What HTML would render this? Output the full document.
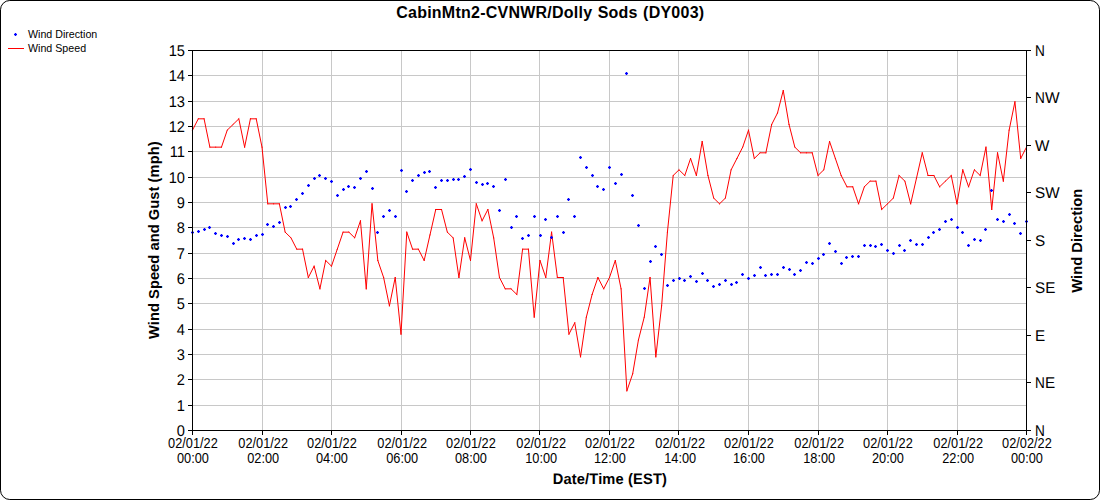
<!DOCTYPE html>
<html><head><meta charset="utf-8"><title>CabinMtn2-CVNWR/Dolly Sods (DY003)</title>
<style>html,body{margin:0;padding:0;background:#fff;}svg{display:block;}text{font-family:"Liberation Sans",sans-serif;fill:#000;}</style></head><body>
<svg width="1100" height="500" viewBox="0 0 1100 500">
<rect x="0" y="0" width="1100" height="500" fill="#fff"/>
<rect x="0.5" y="0.5" width="1099" height="499" rx="9.3" ry="9.3" fill="#fff" stroke="#000" stroke-width="1"/>
<text x="550.3" y="18.0" font-size="16" font-weight="bold" text-anchor="middle" letter-spacing="0.235" word-spacing="0.7">CabinMtn2-CVNWR/Dolly Sods (DY003)</text>
<text x="28" y="38" font-size="10.67">Wind Direction</text>
<line x1="8" y1="48.5" x2="24" y2="48.5" stroke="#ff0000" stroke-width="1.0"/>
<text x="28" y="51.8" font-size="10.67">Wind Speed</text>
<path d="M193 405.5H1026M193 379.5H1026M193 354.5H1026M193 329.5H1026M193 303.5H1026M193 278.5H1026M193 253.5H1026M193 227.5H1026M193 202.5H1026M193 177.5H1026M193 151.5H1026M193 126.5H1026M193 101.5H1026M193 75.5H1026M262.5 51V430M331.5 51V430M401.5 51V430M470.5 51V430M539.5 51V430M609.5 51V430M678.5 51V430M748.5 51V430M818.5 51V430M887.5 51V430M957.5 51V430" stroke="#c8c8c8" stroke-width="1" fill="none" shape-rendering="crispEdges"/>
<path d="M192.50 130.15L198.29 118.82M198.29 118.82L204.08 118.82M204.08 118.82L209.88 147.15M209.88 147.15L215.67 147.15M215.67 147.15L221.46 147.15M221.46 147.15L227.25 130.15M227.25 130.15L233.04 124.49M233.04 124.49L238.83 118.82M238.83 118.82L244.62 147.15M244.62 147.15L250.42 118.82M250.42 118.82L256.21 118.82M256.21 118.82L262.00 147.15M262.00 147.15L267.79 203.82M267.79 203.82L273.58 203.82M273.58 203.82L279.38 203.82M279.38 203.82L285.17 232.16M285.17 232.16L290.96 237.82M290.96 237.82L296.75 249.16M296.75 249.16L302.54 249.16M302.54 249.16L308.33 277.49M308.33 277.49L314.12 266.16M314.12 266.16L319.92 288.83M319.92 288.83L325.71 260.49M325.71 260.49L331.50 266.16M331.50 266.16L337.29 249.16M337.29 249.16L343.08 232.16M343.08 232.16L348.88 232.16M348.88 232.16L354.67 237.82M354.67 237.82L360.46 220.82M360.46 220.82L366.25 288.83M366.25 288.83L372.04 203.82M372.04 203.82L377.83 260.49M377.83 260.49L383.62 277.49M383.62 277.49L389.42 305.83M389.42 305.83L395.21 277.49M395.21 277.49L401.00 334.16M401.00 334.16L406.79 232.16M406.79 232.16L412.58 249.16M412.58 249.16L418.38 249.16M418.38 249.16L424.17 260.49M424.17 260.49L429.96 234.99M429.96 234.99L435.75 209.49M435.75 209.49L441.54 209.49M441.54 209.49L447.33 232.16M447.33 232.16L453.12 237.82M453.12 237.82L458.92 277.49M458.92 277.49L464.71 237.82M464.71 237.82L470.50 260.49M470.50 260.49L476.29 203.82M476.29 203.82L482.08 220.82M482.08 220.82L487.88 209.49M487.88 209.49L493.67 237.82M493.67 237.82L499.46 277.49M499.46 277.49L505.25 288.83M505.25 288.83L511.04 288.83M511.04 288.83L516.83 294.49M516.83 294.49L522.62 249.16M522.62 249.16L528.42 249.16M528.42 249.16L534.21 317.16M534.21 317.16L540.00 260.49M540.00 260.49L545.79 277.49M545.79 277.49L551.58 232.16M551.58 232.16L557.38 277.49M557.38 277.49L563.17 277.49M563.17 277.49L568.96 334.16M568.96 334.16L574.75 322.83M574.75 322.83L580.54 356.83M580.54 356.83L586.33 317.16M586.33 317.16L592.12 294.49M592.12 294.49L597.92 277.49M597.92 277.49L603.71 288.83M603.71 288.83L609.50 277.49M609.50 277.49L615.29 260.49M615.29 260.49L621.08 288.83M621.08 288.83L626.88 390.83M626.88 390.83L632.67 373.83M632.67 373.83L638.46 339.83M638.46 339.83L644.25 317.16M644.25 317.16L650.04 277.49M650.04 277.49L655.83 356.83M655.83 356.83L661.62 305.83M661.62 305.83L667.42 232.16M667.42 232.16L673.21 175.49M673.21 175.49L679.00 169.82M679.00 169.82L684.79 175.49M684.79 175.49L690.58 158.49M690.58 158.49L696.38 175.49M696.38 175.49L702.17 141.49M702.17 141.49L707.96 175.49M707.96 175.49L713.75 198.16M713.75 198.16L719.54 203.82M719.54 203.82L725.33 198.16M725.33 198.16L731.12 169.82M731.12 169.82L736.92 158.49M736.92 158.49L742.71 147.15M742.71 147.15L748.50 130.15M748.50 130.15L754.29 158.49M754.29 158.49L760.08 152.82M760.08 152.82L765.88 152.82M765.88 152.82L771.67 124.49M771.67 124.49L777.46 113.15M777.46 113.15L783.25 90.49M783.25 90.49L789.04 124.49M789.04 124.49L794.83 147.15M794.83 147.15L800.62 152.82M800.62 152.82L806.42 152.82M806.42 152.82L812.21 152.82M812.21 152.82L818.00 175.49M818.00 175.49L823.79 169.82M823.79 169.82L829.58 141.49M829.58 141.49L835.38 158.49M835.38 158.49L841.17 175.49M841.17 175.49L846.96 186.82M846.96 186.82L852.75 186.82M852.75 186.82L858.54 203.82M858.54 203.82L864.33 186.82M864.33 186.82L870.12 181.16M870.12 181.16L875.92 181.16M875.92 181.16L881.71 209.49M881.71 209.49L887.50 203.82M887.50 203.82L893.29 198.16M893.29 198.16L899.08 175.49M899.08 175.49L904.88 181.16M904.88 181.16L910.67 203.82M910.67 203.82L916.46 178.32M916.46 178.32L922.25 152.82M922.25 152.82L928.04 175.49M928.04 175.49L933.83 175.49M933.83 175.49L939.62 186.82M939.62 186.82L945.42 181.16M945.42 181.16L951.21 175.49M951.21 175.49L957.00 203.82M957.00 203.82L962.79 169.82M962.79 169.82L968.58 186.82M968.58 186.82L974.38 169.82M974.38 169.82L980.17 175.49M980.17 175.49L985.96 147.15M985.96 147.15L991.75 209.49M991.75 209.49L997.54 152.82M997.54 152.82L1003.33 181.16M1003.33 181.16L1009.12 130.15M1009.12 130.15L1014.92 101.82M1014.92 101.82L1020.71 158.49M1020.71 158.49L1026.50 147.15" fill="none" stroke="#ff0000" stroke-width="1.0" stroke-linecap="square"/>
<path d="M191.0 231.0h3v3h-3zM197.0 230.0h3v3h-3zM203.0 228.0h3v3h-3zM208.0 226.0h3v3h-3zM214.0 232.0h3v3h-3zM220.0 234.0h3v3h-3zM226.0 235.0h3v3h-3zM232.0 242.0h3v3h-3zM237.0 238.0h3v3h-3zM243.0 237.0h3v3h-3zM249.0 238.0h3v3h-3zM255.0 234.0h3v3h-3zM261.0 233.0h3v3h-3zM266.0 223.0h3v3h-3zM272.0 225.0h3v3h-3zM278.0 221.0h3v3h-3zM284.0 206.0h3v3h-3zM289.0 205.0h3v3h-3zM295.0 198.0h3v3h-3zM301.0 192.0h3v3h-3zM307.0 184.0h3v3h-3zM313.0 177.0h3v3h-3zM318.0 174.0h3v3h-3zM324.0 177.0h3v3h-3zM330.0 180.0h3v3h-3zM336.0 194.0h3v3h-3zM342.0 188.0h3v3h-3zM347.0 185.0h3v3h-3zM353.0 186.0h3v3h-3zM359.0 177.0h3v3h-3zM365.0 170.0h3v3h-3zM371.0 187.0h3v3h-3zM376.0 231.0h3v3h-3zM382.0 215.0h3v3h-3zM388.0 209.0h3v3h-3zM394.0 215.0h3v3h-3zM400.0 169.0h3v3h-3zM405.0 190.0h3v3h-3zM411.0 179.0h3v3h-3zM417.0 174.0h3v3h-3zM423.0 171.0h3v3h-3zM428.0 170.0h3v3h-3zM434.0 186.0h3v3h-3zM440.0 179.0h3v3h-3zM446.0 179.0h3v3h-3zM452.0 178.0h3v3h-3zM457.0 178.0h3v3h-3zM463.0 175.0h3v3h-3zM469.0 168.0h3v3h-3zM475.0 181.0h3v3h-3zM481.0 183.0h3v3h-3zM486.0 182.0h3v3h-3zM492.0 185.0h3v3h-3zM498.0 209.0h3v3h-3zM504.0 178.0h3v3h-3zM510.0 226.0h3v3h-3zM515.0 215.0h3v3h-3zM521.0 237.0h3v3h-3zM527.0 234.0h3v3h-3zM533.0 215.0h3v3h-3zM539.0 234.0h3v3h-3zM544.0 218.0h3v3h-3zM550.0 236.0h3v3h-3zM556.0 215.0h3v3h-3zM562.0 231.0h3v3h-3zM567.0 198.0h3v3h-3zM573.0 215.0h3v3h-3zM579.0 156.0h3v3h-3zM585.0 166.0h3v3h-3zM591.0 174.0h3v3h-3zM596.0 185.0h3v3h-3zM602.0 188.0h3v3h-3zM608.0 166.0h3v3h-3zM614.0 182.0h3v3h-3zM620.0 173.0h3v3h-3zM625.0 72.0h3v3h-3zM631.0 194.0h3v3h-3zM637.0 224.0h3v3h-3zM643.0 287.0h3v3h-3zM649.0 260.0h3v3h-3zM654.0 245.0h3v3h-3zM660.0 253.0h3v3h-3zM666.0 284.0h3v3h-3zM672.0 279.0h3v3h-3zM678.0 277.0h3v3h-3zM683.0 279.0h3v3h-3zM689.0 275.0h3v3h-3zM695.0 280.0h3v3h-3zM701.0 272.0h3v3h-3zM706.0 279.0h3v3h-3zM712.0 285.0h3v3h-3zM718.0 283.0h3v3h-3zM724.0 279.0h3v3h-3zM730.0 283.0h3v3h-3zM735.0 281.0h3v3h-3zM741.0 273.0h3v3h-3zM747.0 277.0h3v3h-3zM753.0 274.0h3v3h-3zM759.0 266.0h3v3h-3zM764.0 274.0h3v3h-3zM770.0 273.0h3v3h-3zM776.0 273.0h3v3h-3zM782.0 266.0h3v3h-3zM788.0 268.0h3v3h-3zM793.0 273.0h3v3h-3zM799.0 269.0h3v3h-3zM805.0 261.0h3v3h-3zM811.0 262.0h3v3h-3zM817.0 257.0h3v3h-3zM822.0 253.0h3v3h-3zM828.0 242.0h3v3h-3zM834.0 250.0h3v3h-3zM840.0 262.0h3v3h-3zM845.0 256.0h3v3h-3zM851.0 255.0h3v3h-3zM857.0 255.0h3v3h-3zM863.0 244.0h3v3h-3zM869.0 244.0h3v3h-3zM874.0 245.0h3v3h-3zM880.0 243.0h3v3h-3zM886.0 249.0h3v3h-3zM892.0 252.0h3v3h-3zM898.0 244.0h3v3h-3zM903.0 249.0h3v3h-3zM909.0 239.0h3v3h-3zM915.0 243.0h3v3h-3zM921.0 243.0h3v3h-3zM927.0 236.0h3v3h-3zM932.0 231.0h3v3h-3zM938.0 228.0h3v3h-3zM944.0 220.0h3v3h-3zM950.0 218.0h3v3h-3zM956.0 226.0h3v3h-3zM961.0 231.0h3v3h-3zM967.0 244.0h3v3h-3zM973.0 238.0h3v3h-3zM979.0 239.0h3v3h-3zM984.0 228.0h3v3h-3zM990.0 189.0h3v3h-3zM996.0 218.0h3v3h-3zM1002.0 220.0h3v3h-3zM1008.0 213.0h3v3h-3zM1013.0 222.0h3v3h-3zM1019.0 232.0h3v3h-3zM1025.0 220.0h3v3h-3zM14.0 33.0h3v3h-3z" fill="#0000ff" fill-opacity="0.27" shape-rendering="crispEdges"/>
<path d="M191.0 232.0h3v1h-3zM192.0 231.0h1v3h-1zM197.0 231.0h3v1h-3zM198.0 230.0h1v3h-1zM203.0 229.0h3v1h-3zM204.0 228.0h1v3h-1zM208.0 227.0h3v1h-3zM209.0 226.0h1v3h-1zM214.0 233.0h3v1h-3zM215.0 232.0h1v3h-1zM220.0 235.0h3v1h-3zM221.0 234.0h1v3h-1zM226.0 236.0h3v1h-3zM227.0 235.0h1v3h-1zM232.0 243.0h3v1h-3zM233.0 242.0h1v3h-1zM237.0 239.0h3v1h-3zM238.0 238.0h1v3h-1zM243.0 238.0h3v1h-3zM244.0 237.0h1v3h-1zM249.0 239.0h3v1h-3zM250.0 238.0h1v3h-1zM255.0 235.0h3v1h-3zM256.0 234.0h1v3h-1zM261.0 234.0h3v1h-3zM262.0 233.0h1v3h-1zM266.0 224.0h3v1h-3zM267.0 223.0h1v3h-1zM272.0 226.0h3v1h-3zM273.0 225.0h1v3h-1zM278.0 222.0h3v1h-3zM279.0 221.0h1v3h-1zM284.0 207.0h3v1h-3zM285.0 206.0h1v3h-1zM289.0 206.0h3v1h-3zM290.0 205.0h1v3h-1zM295.0 199.0h3v1h-3zM296.0 198.0h1v3h-1zM301.0 193.0h3v1h-3zM302.0 192.0h1v3h-1zM307.0 185.0h3v1h-3zM308.0 184.0h1v3h-1zM313.0 178.0h3v1h-3zM314.0 177.0h1v3h-1zM318.0 175.0h3v1h-3zM319.0 174.0h1v3h-1zM324.0 178.0h3v1h-3zM325.0 177.0h1v3h-1zM330.0 181.0h3v1h-3zM331.0 180.0h1v3h-1zM336.0 195.0h3v1h-3zM337.0 194.0h1v3h-1zM342.0 189.0h3v1h-3zM343.0 188.0h1v3h-1zM347.0 186.0h3v1h-3zM348.0 185.0h1v3h-1zM353.0 187.0h3v1h-3zM354.0 186.0h1v3h-1zM359.0 178.0h3v1h-3zM360.0 177.0h1v3h-1zM365.0 171.0h3v1h-3zM366.0 170.0h1v3h-1zM371.0 188.0h3v1h-3zM372.0 187.0h1v3h-1zM376.0 232.0h3v1h-3zM377.0 231.0h1v3h-1zM382.0 216.0h3v1h-3zM383.0 215.0h1v3h-1zM388.0 210.0h3v1h-3zM389.0 209.0h1v3h-1zM394.0 216.0h3v1h-3zM395.0 215.0h1v3h-1zM400.0 170.0h3v1h-3zM401.0 169.0h1v3h-1zM405.0 191.0h3v1h-3zM406.0 190.0h1v3h-1zM411.0 180.0h3v1h-3zM412.0 179.0h1v3h-1zM417.0 175.0h3v1h-3zM418.0 174.0h1v3h-1zM423.0 172.0h3v1h-3zM424.0 171.0h1v3h-1zM428.0 171.0h3v1h-3zM429.0 170.0h1v3h-1zM434.0 187.0h3v1h-3zM435.0 186.0h1v3h-1zM440.0 180.0h3v1h-3zM441.0 179.0h1v3h-1zM446.0 180.0h3v1h-3zM447.0 179.0h1v3h-1zM452.0 179.0h3v1h-3zM453.0 178.0h1v3h-1zM457.0 179.0h3v1h-3zM458.0 178.0h1v3h-1zM463.0 176.0h3v1h-3zM464.0 175.0h1v3h-1zM469.0 169.0h3v1h-3zM470.0 168.0h1v3h-1zM475.0 182.0h3v1h-3zM476.0 181.0h1v3h-1zM481.0 184.0h3v1h-3zM482.0 183.0h1v3h-1zM486.0 183.0h3v1h-3zM487.0 182.0h1v3h-1zM492.0 186.0h3v1h-3zM493.0 185.0h1v3h-1zM498.0 210.0h3v1h-3zM499.0 209.0h1v3h-1zM504.0 179.0h3v1h-3zM505.0 178.0h1v3h-1zM510.0 227.0h3v1h-3zM511.0 226.0h1v3h-1zM515.0 216.0h3v1h-3zM516.0 215.0h1v3h-1zM521.0 238.0h3v1h-3zM522.0 237.0h1v3h-1zM527.0 235.0h3v1h-3zM528.0 234.0h1v3h-1zM533.0 216.0h3v1h-3zM534.0 215.0h1v3h-1zM539.0 235.0h3v1h-3zM540.0 234.0h1v3h-1zM544.0 219.0h3v1h-3zM545.0 218.0h1v3h-1zM550.0 237.0h3v1h-3zM551.0 236.0h1v3h-1zM556.0 216.0h3v1h-3zM557.0 215.0h1v3h-1zM562.0 232.0h3v1h-3zM563.0 231.0h1v3h-1zM567.0 199.0h3v1h-3zM568.0 198.0h1v3h-1zM573.0 216.0h3v1h-3zM574.0 215.0h1v3h-1zM579.0 157.0h3v1h-3zM580.0 156.0h1v3h-1zM585.0 167.0h3v1h-3zM586.0 166.0h1v3h-1zM591.0 175.0h3v1h-3zM592.0 174.0h1v3h-1zM596.0 186.0h3v1h-3zM597.0 185.0h1v3h-1zM602.0 189.0h3v1h-3zM603.0 188.0h1v3h-1zM608.0 167.0h3v1h-3zM609.0 166.0h1v3h-1zM614.0 183.0h3v1h-3zM615.0 182.0h1v3h-1zM620.0 174.0h3v1h-3zM621.0 173.0h1v3h-1zM625.0 73.0h3v1h-3zM626.0 72.0h1v3h-1zM631.0 195.0h3v1h-3zM632.0 194.0h1v3h-1zM637.0 225.0h3v1h-3zM638.0 224.0h1v3h-1zM643.0 288.0h3v1h-3zM644.0 287.0h1v3h-1zM649.0 261.0h3v1h-3zM650.0 260.0h1v3h-1zM654.0 246.0h3v1h-3zM655.0 245.0h1v3h-1zM660.0 254.0h3v1h-3zM661.0 253.0h1v3h-1zM666.0 285.0h3v1h-3zM667.0 284.0h1v3h-1zM672.0 280.0h3v1h-3zM673.0 279.0h1v3h-1zM678.0 278.0h3v1h-3zM679.0 277.0h1v3h-1zM683.0 280.0h3v1h-3zM684.0 279.0h1v3h-1zM689.0 276.0h3v1h-3zM690.0 275.0h1v3h-1zM695.0 281.0h3v1h-3zM696.0 280.0h1v3h-1zM701.0 273.0h3v1h-3zM702.0 272.0h1v3h-1zM706.0 280.0h3v1h-3zM707.0 279.0h1v3h-1zM712.0 286.0h3v1h-3zM713.0 285.0h1v3h-1zM718.0 284.0h3v1h-3zM719.0 283.0h1v3h-1zM724.0 280.0h3v1h-3zM725.0 279.0h1v3h-1zM730.0 284.0h3v1h-3zM731.0 283.0h1v3h-1zM735.0 282.0h3v1h-3zM736.0 281.0h1v3h-1zM741.0 274.0h3v1h-3zM742.0 273.0h1v3h-1zM747.0 278.0h3v1h-3zM748.0 277.0h1v3h-1zM753.0 275.0h3v1h-3zM754.0 274.0h1v3h-1zM759.0 267.0h3v1h-3zM760.0 266.0h1v3h-1zM764.0 275.0h3v1h-3zM765.0 274.0h1v3h-1zM770.0 274.0h3v1h-3zM771.0 273.0h1v3h-1zM776.0 274.0h3v1h-3zM777.0 273.0h1v3h-1zM782.0 267.0h3v1h-3zM783.0 266.0h1v3h-1zM788.0 269.0h3v1h-3zM789.0 268.0h1v3h-1zM793.0 274.0h3v1h-3zM794.0 273.0h1v3h-1zM799.0 270.0h3v1h-3zM800.0 269.0h1v3h-1zM805.0 262.0h3v1h-3zM806.0 261.0h1v3h-1zM811.0 263.0h3v1h-3zM812.0 262.0h1v3h-1zM817.0 258.0h3v1h-3zM818.0 257.0h1v3h-1zM822.0 254.0h3v1h-3zM823.0 253.0h1v3h-1zM828.0 243.0h3v1h-3zM829.0 242.0h1v3h-1zM834.0 251.0h3v1h-3zM835.0 250.0h1v3h-1zM840.0 263.0h3v1h-3zM841.0 262.0h1v3h-1zM845.0 257.0h3v1h-3zM846.0 256.0h1v3h-1zM851.0 256.0h3v1h-3zM852.0 255.0h1v3h-1zM857.0 256.0h3v1h-3zM858.0 255.0h1v3h-1zM863.0 245.0h3v1h-3zM864.0 244.0h1v3h-1zM869.0 245.0h3v1h-3zM870.0 244.0h1v3h-1zM874.0 246.0h3v1h-3zM875.0 245.0h1v3h-1zM880.0 244.0h3v1h-3zM881.0 243.0h1v3h-1zM886.0 250.0h3v1h-3zM887.0 249.0h1v3h-1zM892.0 253.0h3v1h-3zM893.0 252.0h1v3h-1zM898.0 245.0h3v1h-3zM899.0 244.0h1v3h-1zM903.0 250.0h3v1h-3zM904.0 249.0h1v3h-1zM909.0 240.0h3v1h-3zM910.0 239.0h1v3h-1zM915.0 244.0h3v1h-3zM916.0 243.0h1v3h-1zM921.0 244.0h3v1h-3zM922.0 243.0h1v3h-1zM927.0 237.0h3v1h-3zM928.0 236.0h1v3h-1zM932.0 232.0h3v1h-3zM933.0 231.0h1v3h-1zM938.0 229.0h3v1h-3zM939.0 228.0h1v3h-1zM944.0 221.0h3v1h-3zM945.0 220.0h1v3h-1zM950.0 219.0h3v1h-3zM951.0 218.0h1v3h-1zM956.0 227.0h3v1h-3zM957.0 226.0h1v3h-1zM961.0 232.0h3v1h-3zM962.0 231.0h1v3h-1zM967.0 245.0h3v1h-3zM968.0 244.0h1v3h-1zM973.0 239.0h3v1h-3zM974.0 238.0h1v3h-1zM979.0 240.0h3v1h-3zM980.0 239.0h1v3h-1zM984.0 229.0h3v1h-3zM985.0 228.0h1v3h-1zM990.0 190.0h3v1h-3zM991.0 189.0h1v3h-1zM996.0 219.0h3v1h-3zM997.0 218.0h1v3h-1zM1002.0 221.0h3v1h-3zM1003.0 220.0h1v3h-1zM1008.0 214.0h3v1h-3zM1009.0 213.0h1v3h-1zM1013.0 223.0h3v1h-3zM1014.0 222.0h1v3h-1zM1019.0 233.0h3v1h-3zM1020.0 232.0h1v3h-1zM1025.0 221.0h3v1h-3zM1026.0 220.0h1v3h-1zM14.0 34.0h3v1h-3zM15.0 33.0h1v3h-1z" fill="#0000ff" shape-rendering="crispEdges"/>
<path d="M192.5 50.5H1026.5V430.5H192.5ZM188 430.5H193M188 405.5H193M188 379.5H193M188 354.5H193M188 329.5H193M188 303.5H193M188 278.5H193M188 253.5H193M188 227.5H193M188 202.5H193M188 177.5H193M188 151.5H193M188 126.5H193M188 101.5H193M188 75.5H193M188 50.5H193M1026 430.5H1031M1026 382.5H1031M1026 335.5H1031M1026 287.5H1031M1026 240.5H1031M1026 192.5H1031M1026 145.5H1031M1026 97.5H1031M1026 50.5H1031M192.5 430V435M262.5 430V435M331.5 430V435M401.5 430V435M470.5 430V435M539.5 430V435M609.5 430V435M678.5 430V435M748.5 430V435M818.5 430V435M887.5 430V435M957.5 430V435M1026.5 430V435" stroke="#000" stroke-width="1" fill="none" shape-rendering="crispEdges"/>
<text transform="translate(185.00,436.00) skewX(0.05) scale(0.946,1.0)" font-size="15.5" text-anchor="end">0</text>
<text transform="translate(185.00,411.00) skewX(0.05) scale(0.946,1.0)" font-size="15.5" text-anchor="end">1</text>
<text transform="translate(185.00,385.00) skewX(0.05) scale(0.946,1.0)" font-size="15.5" text-anchor="end">2</text>
<text transform="translate(185.00,360.00) skewX(0.05) scale(0.946,1.0)" font-size="15.5" text-anchor="end">3</text>
<text transform="translate(185.00,335.00) skewX(0.05) scale(0.946,1.0)" font-size="15.5" text-anchor="end">4</text>
<text transform="translate(185.00,309.00) skewX(0.05) scale(0.946,1.0)" font-size="15.5" text-anchor="end">5</text>
<text transform="translate(185.00,284.00) skewX(0.05) scale(0.946,1.0)" font-size="15.5" text-anchor="end">6</text>
<text transform="translate(185.00,259.00) skewX(0.05) scale(0.946,1.0)" font-size="15.5" text-anchor="end">7</text>
<text transform="translate(185.00,233.00) skewX(0.05) scale(0.946,1.0)" font-size="15.5" text-anchor="end">8</text>
<text transform="translate(185.00,208.00) skewX(0.05) scale(0.946,1.0)" font-size="15.5" text-anchor="end">9</text>
<text transform="translate(185.00,183.00) skewX(0.05) scale(0.946,1.0)" font-size="15.5" text-anchor="end">10</text>
<text transform="translate(185.00,157.00) skewX(0.05) scale(0.946,1.0)" font-size="15.5" text-anchor="end">11</text>
<text transform="translate(185.00,132.00) skewX(0.05) scale(0.946,1.0)" font-size="15.5" text-anchor="end">12</text>
<text transform="translate(185.00,107.00) skewX(0.05) scale(0.946,1.0)" font-size="15.5" text-anchor="end">13</text>
<text transform="translate(185.00,81.00) skewX(0.05) scale(0.946,1.0)" font-size="15.5" text-anchor="end">14</text>
<text transform="translate(185.00,56.00) skewX(0.05) scale(0.946,1.0)" font-size="15.5" text-anchor="end">15</text>
<text transform="translate(1034.90,436.00) skewX(0.05) scale(0.88,1.0)" font-size="15.5">N</text>
<text transform="translate(1034.90,388.00) skewX(0.05) scale(0.88,1.0)" font-size="15.5">N</text>
<text transform="translate(1045.10,388.00) skewX(0.05) scale(0.985,1.0)" font-size="15.5">E</text>
<text transform="translate(1035.10,341.00) skewX(0.05) scale(0.985,1.0)" font-size="15.5">E</text>
<text transform="translate(1035.10,293.00) skewX(0.05) scale(0.985,1.0)" font-size="15.5">SE</text>
<text transform="translate(1035.10,246.00) skewX(0.05) scale(0.985,1.0)" font-size="15.5">S</text>
<text transform="translate(1035.10,198.00) skewX(0.05) scale(0.985,1.0)" font-size="15.5">SW</text>
<text transform="translate(1035.10,151.00) skewX(0.05) scale(0.985,1.0)" font-size="15.5">W</text>
<text transform="translate(1034.90,103.00) skewX(0.05) scale(0.88,1.0)" font-size="15.5">N</text>
<text transform="translate(1045.10,103.00) skewX(0.05)" font-size="15.5">W</text>
<text transform="translate(1034.90,56.00) skewX(0.05) scale(0.88,1.0)" font-size="15.5">N</text>
<text transform="translate(192.95,447.80) scale(0.913,1.0)" font-size="14" text-anchor="middle">02/01/22</text>
<text transform="translate(192.95,462.80) scale(0.913,1.0)" font-size="14" text-anchor="middle">00:00</text>
<text transform="translate(263.15,447.80) scale(0.913,1.0)" font-size="14" text-anchor="middle">02/01/22</text>
<text transform="translate(263.15,462.80) scale(0.913,1.0)" font-size="14" text-anchor="middle">02:00</text>
<text transform="translate(331.95,447.80) scale(0.913,1.0)" font-size="14" text-anchor="middle">02/01/22</text>
<text transform="translate(331.95,462.80) scale(0.913,1.0)" font-size="14" text-anchor="middle">04:00</text>
<text transform="translate(402.15,447.80) scale(0.913,1.0)" font-size="14" text-anchor="middle">02/01/22</text>
<text transform="translate(402.15,462.80) scale(0.913,1.0)" font-size="14" text-anchor="middle">06:00</text>
<text transform="translate(470.95,447.80) scale(0.913,1.0)" font-size="14" text-anchor="middle">02/01/22</text>
<text transform="translate(470.95,462.80) scale(0.913,1.0)" font-size="14" text-anchor="middle">08:00</text>
<text transform="translate(541.15,447.80) scale(0.913,1.0)" font-size="14" text-anchor="middle">02/01/22</text>
<text transform="translate(541.15,462.80) scale(0.913,1.0)" font-size="14" text-anchor="middle">10:00</text>
<text transform="translate(609.95,447.80) scale(0.913,1.0)" font-size="14" text-anchor="middle">02/01/22</text>
<text transform="translate(609.95,462.80) scale(0.913,1.0)" font-size="14" text-anchor="middle">12:00</text>
<text transform="translate(680.15,447.80) scale(0.913,1.0)" font-size="14" text-anchor="middle">02/01/22</text>
<text transform="translate(680.15,462.80) scale(0.913,1.0)" font-size="14" text-anchor="middle">14:00</text>
<text transform="translate(748.95,447.80) scale(0.913,1.0)" font-size="14" text-anchor="middle">02/01/22</text>
<text transform="translate(748.95,462.80) scale(0.913,1.0)" font-size="14" text-anchor="middle">16:00</text>
<text transform="translate(819.15,447.80) scale(0.913,1.0)" font-size="14" text-anchor="middle">02/01/22</text>
<text transform="translate(819.15,462.80) scale(0.913,1.0)" font-size="14" text-anchor="middle">18:00</text>
<text transform="translate(887.95,447.80) scale(0.913,1.0)" font-size="14" text-anchor="middle">02/01/22</text>
<text transform="translate(887.95,462.80) scale(0.913,1.0)" font-size="14" text-anchor="middle">20:00</text>
<text transform="translate(958.15,447.80) scale(0.913,1.0)" font-size="14" text-anchor="middle">02/01/22</text>
<text transform="translate(958.15,462.80) scale(0.913,1.0)" font-size="14" text-anchor="middle">22:00</text>
<text transform="translate(1026.95,447.80) scale(0.913,1.0)" font-size="14" text-anchor="middle">02/02/22</text>
<text transform="translate(1026.95,462.80) scale(0.913,1.0)" font-size="14" text-anchor="middle">00:00</text>
<text transform="translate(609.90,484.00) skewX(0.05) scale(0.9715,1.0)" font-size="15.1" text-anchor="middle" font-weight="bold" letter-spacing="0.15">Date/Time (EST)</text>
<text transform="translate(158.5,240.2) rotate(-90)" font-size="14.67" font-weight="bold" text-anchor="middle" letter-spacing="0.06">Wind Speed and Gust (mph)</text>
<text transform="translate(1081.8,240.7) rotate(-90) scale(0.984,1)" font-size="15" font-weight="bold" text-anchor="middle">Wind Direction</text>
</svg></body></html>
